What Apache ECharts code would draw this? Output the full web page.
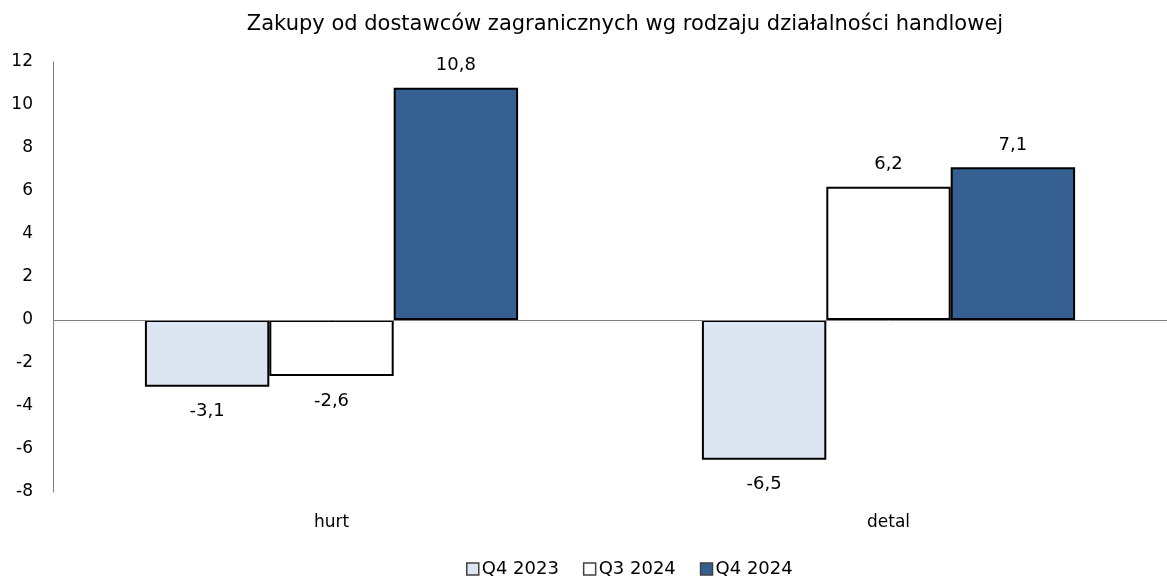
<!DOCTYPE html>
<html>
<head>
<meta charset="utf-8">
<script src="https://cdn.jsdelivr.net/npm/echarts@6/dist/echarts.min.js"></script>
<style>
  html, body { margin: 0; padding: 0; background: #fff; }
  #chart { width: 1167px; height: 578px; }
</style>
</head>
<body>
<div id="chart"></div>
<script>
const categories = ['hurt', 'detal']
const seriesNames = ['Q4 2023', 'Q3 2024', 'Q4 2024']
const q4_2023 = [-3.1, -6.5]
const q3_2024 = [-2.6, 6.2]
const q4_2024 = [10.8, 7.1]
const colors = ['#dce6f2', '#ffffff', '#376092']

const font = 'DejaVu Sans'

function toItems(values) {
    // label above positive bars, below negative ones
    return values.map(v => ({
        value: v,
        label: v < 0 ? { position: 'bottom', distance: 16 } : { position: 'top', distance: 13 }
    }))
}

const chart = echarts.init(document.getElementById('chart'))

const series = [q4_2023, q3_2024, q4_2024].map((vals, i) => ({
    name: seriesNames[i],
    type: 'bar',
    barGap: '0%',
    barCategoryGap: '33%',
    data: toItems(vals),
    itemStyle: {
        color: colors[i],
        borderColor: '#000',
        borderWidth: 2
    },
    label: {
        show: true,
        fontFamily: font,
        fontSize: 18,
        color: '#000',
        formatter: p => String(p.value).replace('.', ',')
    },
    animation: false
}))

// zero line across the whole plot
series[0].markLine = {
    silent: true,
    symbol: 'none',
    label: { show: false },
    lineStyle: { color: '#808080', width: 1, type: 'solid' },
    data: [{ yAxis: 0 }],
    animation: false
}

chart.setOption({
    title: {
        text: 'Zakupy od dostawców zagranicznych wg rodzaju działalności handlowej',
        left: 620,
        top: 9,
        textAlign: 'center',
        textStyle: {
            fontFamily: font,
            fontSize: 21,
            fontWeight: 'normal',
            color: '#000'
        }
    },
    legend: {
        data: seriesNames,
        left: 461,
        top: 555,
        icon: 'rect',
        itemWidth: 12,
        itemHeight: 12,
        itemGap: 24,
        itemStyle: { borderColor: '#404040', borderWidth: 1.5 },
        textStyle: { fontFamily: font, fontSize: 18, color: '#000', padding: [0, 0, 0, -2] }
    },
    grid: {
        left: 53,
        right: 0,
        top: 62,
        bottom: 86,
        containLabel: false
    },
    xAxis: {
        type: 'category',
        data: categories,
        axisLine: { show: false, onZero: false },
        axisTick: { show: false },
        axisLabel: {
            margin: 22,
            fontFamily: font,
            fontSize: 17,
            color: '#000'
        }
    },
    yAxis: {
        type: 'value',
        min: -8,
        max: 12,
        interval: 2,
        axisLine: { show: true, lineStyle: { color: '#808080', width: 1 } },
        axisTick: { show: false },
        splitLine: { show: false },
        axisLabel: {
            margin: 20,
            fontFamily: font,
            fontSize: 17,
            color: '#000'
        }
    },
    series: series
})
</script>
</body>
</html>
